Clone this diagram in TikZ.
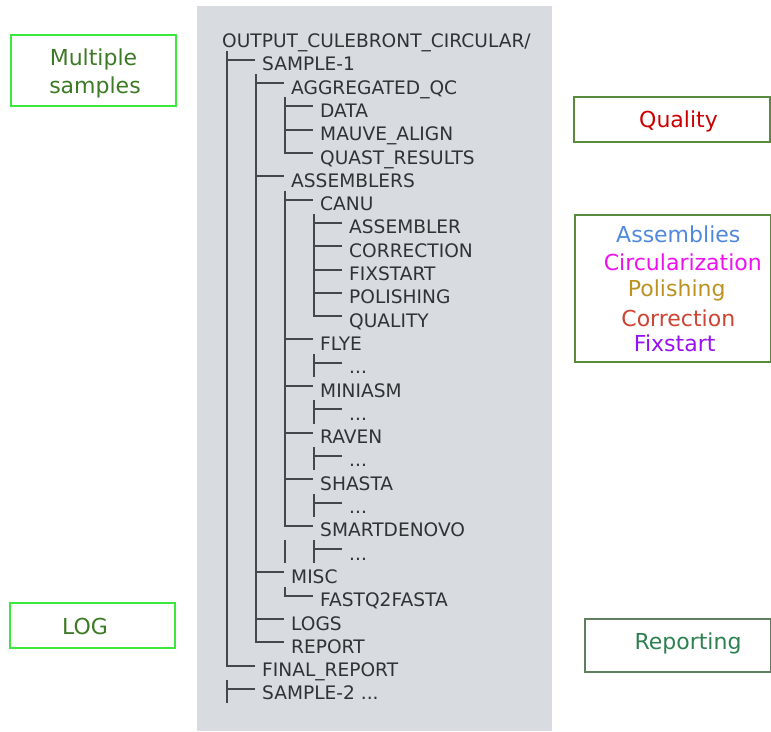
\documentclass[tikz,border=0pt]{standalone}
\usepackage{fontspec}
\setmainfont{DejaVu Sans}
\definecolor{panel}{HTML}{D8DBE0}
\definecolor{treeink}{HTML}{2E3436}
\definecolor{leftedge}{HTML}{3DE83D}
\definecolor{leftink}{HTML}{3D7A26}
\definecolor{rightedge}{HTML}{5A8A3C}
\definecolor{repedge}{HTML}{5F7F5F}
\definecolor{qualink}{HTML}{CC0000}
\definecolor{asmink}{HTML}{5088DD}
\definecolor{circink}{HTML}{EE11EE}
\definecolor{polink}{HTML}{BB9222}
\definecolor{corrink}{HTML}{CC4433}
\definecolor{fixink}{HTML}{9911EE}
\definecolor{repink}{HTML}{2F8050}
\newcommand{\etcdir}{...}
\tikzset{
  tree/.style={inner sep=0pt,anchor=base west,text=treeink,font=\fontsize{18.6}{22}\selectfont},
  branch/.style={draw=treeink!90!white,line width=1.8pt},
  lbl/.style={inner sep=0pt,anchor=base,font=\fontsize{22}{26}\selectfont},
  leftbox/.style={draw=leftedge,line width=1.5pt,inner sep=0pt},
  rightbox/.style={draw=rightedge,line width=1.5pt,inner sep=0pt}
}
\begin{document}
\begin{tikzpicture}[x=1pt,y=-1pt]
\useasboundingbox (0,0) rectangle (771,731);
\fill[panel] (197,6) rectangle (552,731);
\node[tree] (r0) at (222,47.5) {OUTPUT\_CULEBRONT\_CIRCULAR/};
\foreach \r/\d/\txt in {1/1/SAMPLE-1, 2/2/AGGREGATED\_QC, 3/3/DATA, 4/3/MAUVE\_ALIGN,
    5/3/QUAST\_RESULTS, 6/2/ASSEMBLERS, 7/3/CANU, 8/4/ASSEMBLER, 9/4/CORRECTION,
    10/4/FIXSTART, 11/4/POLISHING, 12/4/QUALITY, 13/3/FLYE, 14/4/\etcdir, 15/3/MINIASM,
    16/4/\etcdir, 17/3/RAVEN, 18/4/\etcdir, 19/3/SHASTA, 20/4/\etcdir, 21/3/SMARTDENOVO,
    22/4/\etcdir, 23/2/MISC, 24/3/FASTQ2FASTA, 25/2/LOGS, 26/2/REPORT, 27/1/FINAL\_REPORT,
    28/1/SAMPLE-2 \etcdir}{
  \pgfmathsetmacro{\yb}{47.5+23.3*\r}
  \pgfmathsetmacro{\yh}{round(\yb-11)}
  \pgfmathsetmacro{\xc}{227+29*(\d-1)}
  \draw[branch] (\xc,\yh) -- ++(28,0);
  \node[tree] (r\r) at (\xc+35,\yb) {\txt};
}
\foreach \c/\a/\b in {1/1/27, 2/2/26, 3/3/5, 3/7/21, 4/8/12, 3/24/24}
  \draw[branch] ({227+29*(\c-1)},{round(47.5+23.3*\a-20)}) -- ({227+29*(\c-1)},{round(47.5+23.3*\b-11)+0.9});
\foreach \c/\a in {1/28, 3/22, 4/14, 4/16, 4/18, 4/20, 4/22}
  \draw[branch] ({227+29*(\c-1)},{round(47.5+23.3*\a-20)}) -- ({227+29*(\c-1)},{round(47.5+23.3*\a+3.3)});
\node[leftbox,minimum width=165pt,minimum height=71pt] (samplesbox) at (93.5,70.5) {};
\node[lbl,text=leftink] (multiple) at (93.5,65) {Multiple};
\node[lbl,text=leftink] (samples) at (95,93.3) {samples};
\node[leftbox,minimum width=165pt,minimum height=45pt] (logbox) at (92.5,625.5) {};
\node[lbl,text=leftink] (log) at (85,634) {LOG};
\node[rightbox,minimum width=196pt,minimum height=45pt] (qualbox) at (672,119.5) {};
\node[lbl,text=qualink] (quality) at (678.5,127.7) {Quality};
\node[rightbox,minimum width=196pt,minimum height=147pt] (stepsbox) at (673,288.5) {};
\node[lbl,text=asmink] (assemblies) at (678.3,242.3) {Assemblies};
\node[lbl,text=circink] (circ) at (682.8,270.7) {Circularization};
\node[lbl,text=polink] (polishing) at (676.7,296.7) {Polishing};
\node[lbl,text=corrink] (correction) at (678.3,326.7) {Correction};
\node[lbl,text=fixink] (fixstart) at (674.7,351) {Fixstart};
\node[rightbox,draw=repedge,minimum width=186pt,minimum height=53pt] (repbox) at (678,645.5) {};
\node[lbl,text=repink] (reporting) at (688,649.3) {Reporting};
\end{tikzpicture}
\end{document}
